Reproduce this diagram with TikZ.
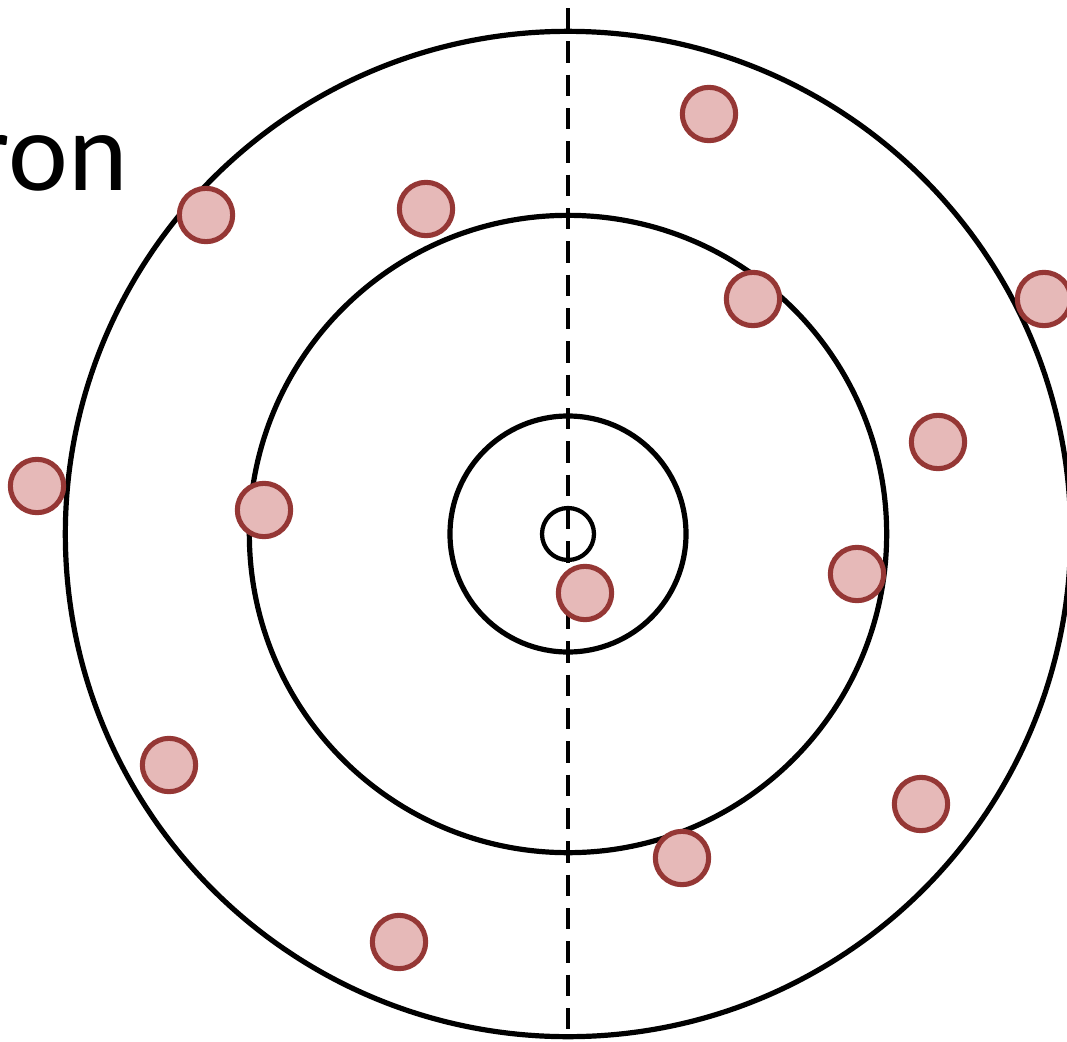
\documentclass[tikz,border=0pt]{standalone}
\usepackage{fontspec}
\setmainfont{Carlito}
\usetikzlibrary{positioning}
\definecolor{elfill}{HTML}{E6B9B8}
\definecolor{eldraw}{HTML}{953735}

\begin{document}
\begin{tikzpicture}[x=0.75pt,y=-0.75pt,
  ring/.style={draw,circle,line width=3.9pt,inner sep=0pt},
  el/.style={draw=eldraw,fill=elfill,circle,line width=3.8pt,inner sep=0pt,minimum size=40pt}]
  \useasboundingbox (0,0) rectangle (1067,1042);
  \coordinate (c) at (568,534);
  % shells
  \node[ring,minimum size=754pt] (shell3) at (c) {};
  \node[ring,minimum size=478pt] (shell2) at (c) {};
  \node[ring,minimum size=177pt] (shell1) at (c) {};
  % axis
  \coordinate (top) at (568,8);
  \coordinate (bot) at (568,1032);
  \draw[line width=2.8pt,dash pattern=on 16pt off 9pt] (top) -- (bot);
  \node[ring,line width=3.2pt,minimum size=39pt] (nuc) at (c) {};
  % electrons
  \node[el] (e1) at (709,114) {};
  \node[el] (e2) at (206,215) {};
  \node[el] (e3) at (426,209) {};
  \node[el] (e4) at (1044,299) {};
  \node[el] (e5) at (753,299) {};
  \node[el] (e6) at (938,442) {};
  \node[el] (e7) at (37,486) {};
  \node[el] (e8) at (264,510) {};
  \node[el] (e9) at (857,574) {};
  \node[el] (e10) at (585,593) {};
  \node[el] (e11) at (169,765) {};
  \node[el] (e12) at (921,804) {};
  \node[el] (e13) at (682,858) {};
  \node[el] (e14) at (399,942) {};
  % label
  \node[anchor=base east,inner sep=0pt,font=\fontsize{85}{90}\selectfont] (lbl) at (128,190) {ron};
\end{tikzpicture}
\end{document}
